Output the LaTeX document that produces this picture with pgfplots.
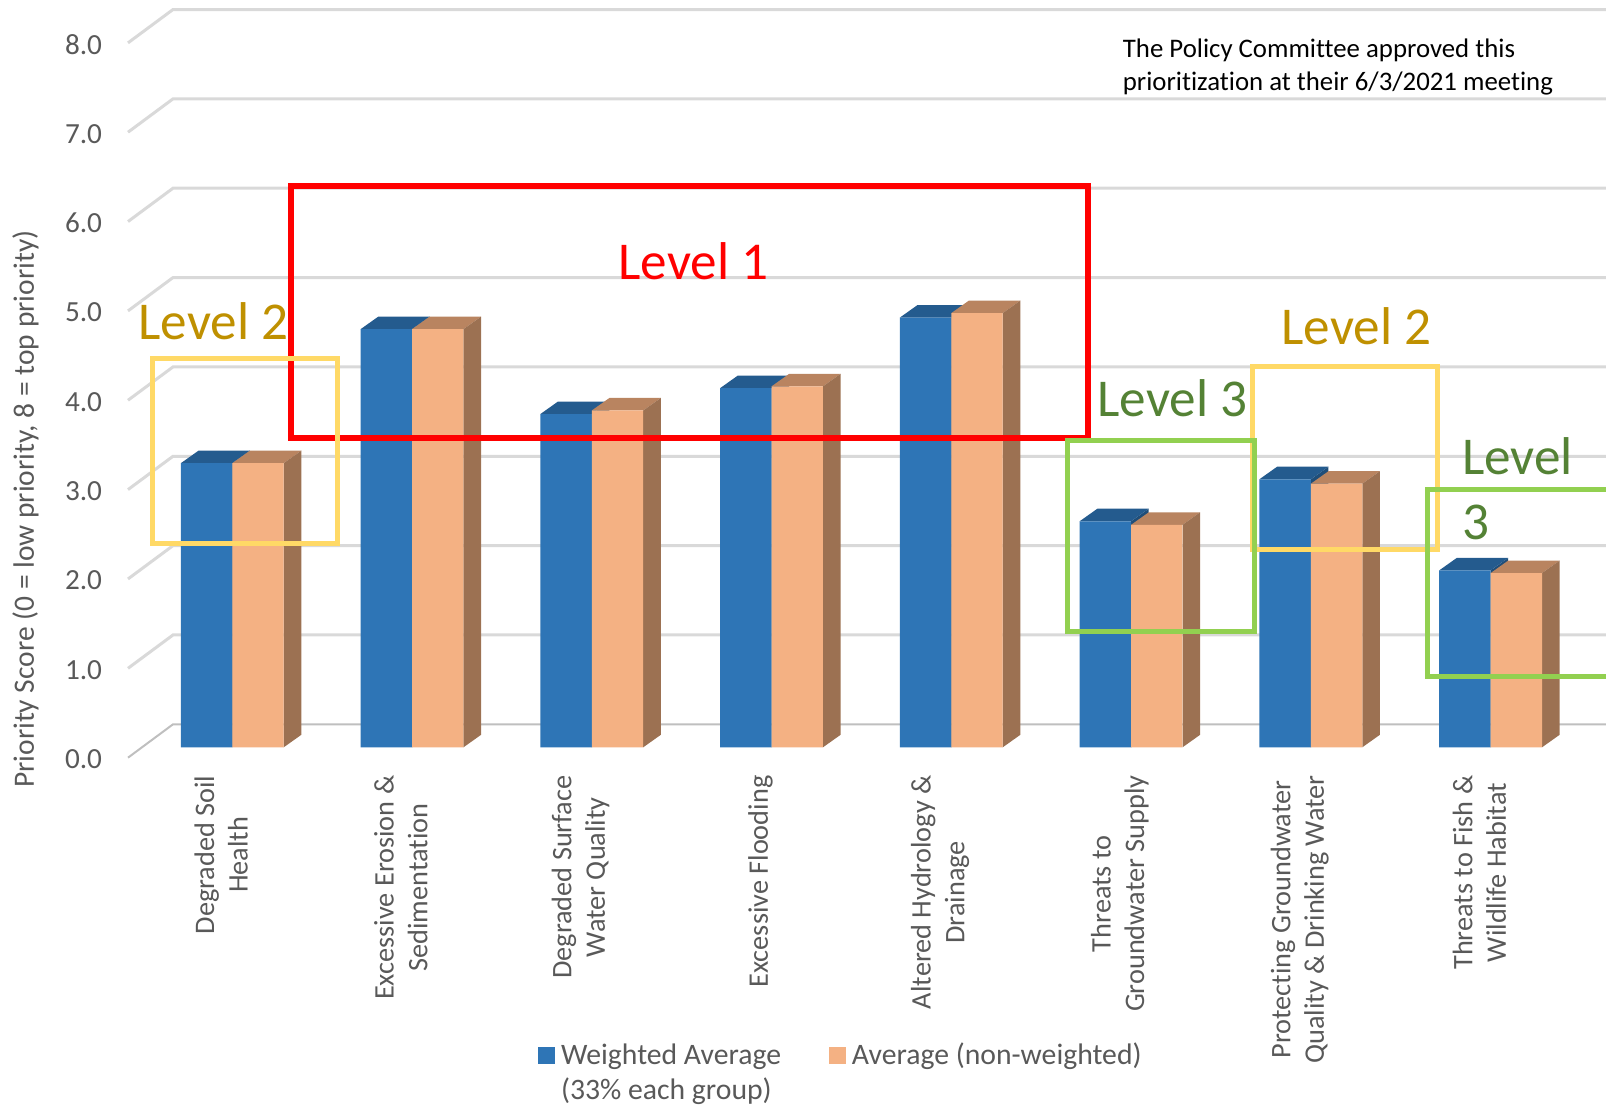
\documentclass[border=0pt]{standalone}
\usepackage{fontspec}
\setmainfont{Carlito}[Ligatures=NoCommon]
\usepackage{pgfplots}
\usepackage{pgfplotstable}
\pgfplotsset{compat=1.18}

\definecolor{wBlue}{HTML}{2E75B6}
\definecolor{wBlueTop}{HTML}{245B8E}
\definecolor{wBlueSide}{HTML}{1F4E79}
\definecolor{aOrange}{HTML}{F4B183}
\definecolor{aOrangeTop}{HTML}{B98460}
\definecolor{aOrangeSide}{HTML}{9C7152}
\definecolor{chartText}{HTML}{595959}
\definecolor{gridLine}{HTML}{D9D9D9}
\definecolor{gridBase}{HTML}{BFBFBF}
\definecolor{lvlGold}{HTML}{BF9000}
\definecolor{lvlGreen}{HTML}{548235}
\definecolor{boxGold}{HTML}{FFD966}
\definecolor{boxGreen}{HTML}{92D050}

% Priority scores per resource concern
\pgfplotstableread{
idx weighted plain
0   3.18     3.18
1   4.68     4.68
2   3.73     3.77
3   4.02     4.04
4   4.81     4.86
5   2.53     2.49
6   3.00     2.95
7   1.98     1.95
}\scores

% Half width of a bar and the depth offset of the 3D faces, in data units
\def\bw{0.286}
\def\dx{0.098}
\def\dy{0.14}

% Top and side faces of one bar: #1 colour, #2 column, #3 left offset from the category
\newcommand\topface[3]{%
  \foreach \i in {0,...,7} {%
    \pgfplotstablegetelem{\i}{#2}\of\scores
    \let\val\pgfplotsretval
    \pgfmathsetmacro\xa{\i+#3}
    \pgfmathsetmacro\xb{\i+#3+\bw}
    \pgfmathsetmacro\xc{\i+#3+\bw+\dx}
    \pgfmathsetmacro\xd{\i+#3+\dx}
    \pgfmathsetmacro\yt{\val+\dy}
    \edef\temp{\noexpand\addplot[fill=#1,draw=none,forget plot] coordinates
      {(\xa,\val) (\xb,\val) (\xc,\yt) (\xd,\yt)} --cycle;}
    \temp
  }}
\newcommand\sideface[3]{%
  \foreach \i in {0,...,7} {%
    \pgfplotstablegetelem{\i}{#2}\of\scores
    \let\val\pgfplotsretval
    \pgfmathsetmacro\xa{\i+#3+\bw}
    \pgfmathsetmacro\xb{\i+#3+\bw+\dx}
    \pgfmathsetmacro\yt{\val+\dy}
    \edef\temp{\noexpand\addplot[fill=#1,draw=none,forget plot] coordinates
      {(\xa,0) (\xa,\val) (\xb,\yt) (\xb,\dy)} --cycle;}
    \temp
  }}

\begin{document}
\begin{tikzpicture}
\useasboundingbox (0,0) rectangle (803pt,552.5pt);
\begin{axis}[
  at={(64pt,173.65pt)}, anchor=south west,
  scale only axis, width=739pt, height=378.85pt,
  xmin=-0.5802, xmax=7.642, ymin=-0.1164, ymax=8.3637,
  clip=false,
  axis line style={draw=none},
  major tick length=0pt,
  tick style={draw=none},
  xtick={0,...,7},
  xticklabels={
    {Degraded Soil\\Health},
    {Excessive Erosion \&\\Sedimentation},
    {Degraded Surface\\Water Quality},
    {Excessive Flooding},
    {Altered Hydrology \&\\Drainage},
    {Threats to\\Groundwater Supply},
    {Protecting Groundwater\\Quality \& Drinking Water},
    {Threats to Fish \&\\Wildlife Habitat}},
  xticklabel style={rotate=90, anchor=east, align=center, inner sep=0pt,
    xshift=-8.7pt, yshift=5.6pt, text=chartText,
    font=\fontsize{14.15}{16.8}\selectfont},
  ytick={0,...,8},
  yticklabel style={anchor=east, inner sep=0pt, xshift=-12.8pt, yshift=-6pt,
    text=chartText, font=\fontsize{14.6}{17}\selectfont,
    /pgf/number format/assume math mode=true,
    /pgf/number format/fixed, /pgf/number format/fixed zerofill,
    /pgf/number format/precision=1},
  ylabel={Priority Score (0 = low priority, 8 = top priority)},
  every axis y label/.style={at={(axis description cs:-0.0693,0.328)},
    rotate=90, anchor=center, text=chartText,
    font=\fontsize{14.75}{17}\selectfont},
  legend columns=2,
  legend cell align=left,
  legend style={at={(axis description cs:0.2774,-0.3712)}, anchor=north west,
    draw=none, fill=none, inner sep=0pt, outer sep=0pt,
    text=chartText, font=\fontsize{14.85}{17.5}\selectfont,
    /tikz/every even column/.append style={column sep=22pt},
    row sep=1pt},
]
% Floor-to-wall gridlines
\addplot[gridBase, line width=1pt, forget plot] coordinates {(-0.5802,-0.116) (-0.33,0.257) (7.642,0.257)};
\addplot[gridLine, line width=1.5pt, forget plot] coordinates {(-0.5802,0.884) (-0.33,1.257) (7.642,1.257)};
\addplot[gridLine, line width=1.5pt, forget plot] coordinates {(-0.5802,1.884) (-0.33,2.257) (7.642,2.257)};
\addplot[gridLine, line width=1.5pt, forget plot] coordinates {(-0.5802,2.884) (-0.33,3.257) (7.642,3.257)};
\addplot[gridLine, line width=1.5pt, forget plot] coordinates {(-0.5802,3.884) (-0.33,4.257) (7.642,4.257)};
\addplot[gridLine, line width=1.5pt, forget plot] coordinates {(-0.5802,4.884) (-0.33,5.257) (7.642,5.257)};
\addplot[gridLine, line width=1.5pt, forget plot] coordinates {(-0.5802,5.884) (-0.33,6.257) (7.642,6.257)};
\addplot[gridLine, line width=1.5pt, forget plot] coordinates {(-0.5802,6.884) (-0.33,7.257) (7.642,7.257)};
\addplot[gridLine, line width=1.5pt, forget plot] coordinates {(-0.5802,7.884) (-0.33,8.257) (7.642,8.257)};

% Bars, back faces first
\sideface{wBlueSide}{weighted}{-0.286}
\topface{wBlueTop}{weighted}{-0.286}
\addplot[ybar, bar width=25.7pt, bar shift=-12.85pt, fill=wBlue, draw=none,
  legend image code/.code={\fill[wBlue] (0pt,-4.25pt) rectangle (8.5pt,4.25pt);\path (9.5pt,0pt);}]
  table[x=idx, y=weighted] {\scores};
\topface{aOrangeTop}{plain}{0}
\sideface{aOrangeSide}{plain}{0}
\addplot[ybar, bar width=25.7pt, bar shift=12.85pt, fill=aOrange, draw=none,
  legend image code/.code={\fill[aOrange] (0pt,-4.25pt) rectangle (8.5pt,4.25pt);\path (9.5pt,0pt);}]
  table[x=idx, y=plain] {\scores};
\addlegendimage{empty legend}
\legend{Weighted Average, Average (non-weighted), (33\% each group)}
\end{axis}

% Priority-level call-outs, laid out in a top-left origin
\begin{scope}[shift={(0,552.5pt)}, x=0.5pt, y=-0.5pt]
  \clip (0,0) rectangle (1606,1105);
  \draw[red, line width=3pt] (290.5,186) rectangle (1087.7,438);
  \draw[boxGold, line width=2.5pt] (152,359) rectangle (337,543.5);
  \draw[boxGold, line width=2.5pt] (1252.5,367) rectangle (1437,549);
  \draw[boxGreen, line width=2.5pt] (1067,441) rectangle (1254.5,631);
  \draw[boxGreen, line width=2.5pt] (1427.5,489.3) rectangle (1620,676.6);
  \tikzset{lvl/.style={anchor=base west, inner sep=0pt, font=\fontsize{26.6}{30}\selectfont}}
  \node[lvl, text=red] at (618,280) {Level 1};
  \node[lvl, text=lvlGold] at (138,339.5) {Level 2};
  \node[lvl, text=lvlGold] at (1281,345) {Level 2};
  \node[lvl, text=lvlGreen] at (1097,416) {Level 3};
  \node[lvl, text=lvlGreen] at (1461.6,474) {Level};
  \node[lvl, text=lvlGreen] at (1461.6,539) {3};
  \tikzset{note/.style={anchor=base west, inner sep=0pt, text=black, font=\fontsize{13.4}{16}\selectfont}}
  \node[note] at (1122.5,57.5) {The Policy Committee approved this};
  \node[note] at (1122.5,91) {prioritization at their 6/3/2021 meeting};
\end{scope}
\end{tikzpicture}
\end{document}
